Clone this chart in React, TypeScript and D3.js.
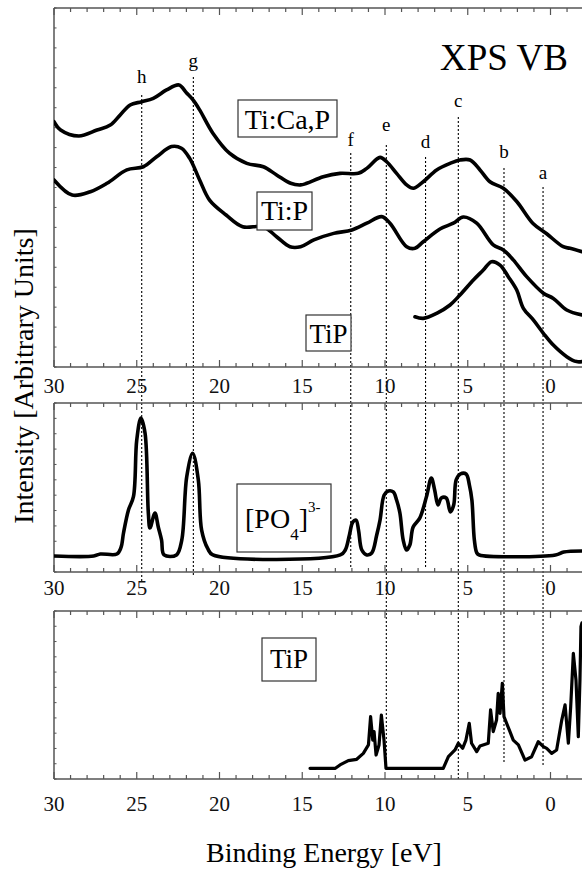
import React from 'react';
import * as d3 from 'd3';

// ---------- data ----------
const xTickLabels = [30, 25, 20, 15, 10, 5, 0];

// Top panel (experimental XPS valence band), arbitrary units
const tiCaP: [number, number][] = [
  [30.0, 12.3], [29.6, 11.88], [28.5, 11.58], [27.4, 11.88], [26.6, 12.13], [26.0, 12.64],
  [25.4, 13.14], [24.7, 13.3], [24.0, 13.47], [23.2, 13.89], [22.45, 14.14], [22.0, 13.75],
  [21.6, 13.39], [21.2, 12.89], [20.4, 11.72], [19.4, 10.72], [18.35, 10.21], [17.35, 10.04],
  [16.55, 9.63], [15.7, 9.21], [15.1, 9.13], [14.73, 9.21], [13.73, 9.54], [12.72, 9.71],
  [11.61, 9.71], [11.1, 9.96], [10.3, 10.51], [9.9, 10.29], [9.3, 9.71], [8.69, 9.13],
  [8.29, 8.96], [7.69, 9.29], [6.88, 9.88], [6.07, 10.21], [5.47, 10.38], [4.86, 10.38],
  [4.26, 9.88], [3.66, 9.29], [2.85, 8.96], [2.04, 8.3], [1.04, 7.18], [0.23, 6.68],
  [-0.77, 6.03], [-1.18, 5.95], [-1.9, 5.78],
];
const tiP: [number, number][] = [
  [30.0, 9.38], [28.9, 8.62], [27.8, 8.79], [26.8, 9.21], [25.6, 9.88], [24.6, 10.04],
  [23.8, 10.54], [22.9, 11.05], [22.3, 10.97], [21.8, 10.46], [21.2, 9.38], [20.6, 8.37],
  [19.6, 7.62], [18.6, 7.03], [17.35, 7.03], [16.55, 6.53], [15.74, 6.03], [15.1, 6.03],
  [14.3, 6.37], [13.1, 6.7], [12.0, 6.87], [11.1, 7.21], [10.2, 7.54], [9.7, 7.21],
  [8.69, 6.03], [8.19, 5.95], [7.69, 6.28], [6.68, 6.92], [5.87, 7.21], [5.27, 7.52],
  [4.46, 7.21], [3.46, 6.12], [2.85, 5.87], [2.25, 5.37], [1.44, 4.53], [0.43, 3.7],
  [-0.17, 3.44], [-0.98, 2.86], [-1.9, 2.61],
];
const tiPExp: [number, number][] = [
  [8.19, 2.52], [7.69, 2.44], [6.88, 2.69], [6.07, 3.11], [5.47, 3.61], [4.66, 4.36],
  [4.06, 4.86], [3.56, 5.28], [3.05, 5.11], [2.55, 4.53], [2.04, 3.86], [1.64, 2.94],
  [1.04, 2.36], [0.43, 1.69], [-0.17, 1.1], [-0.98, 0.52], [-1.58, 0.27], [-1.9, 0.27],
];

// Middle panel: [PO4]3- cluster calculation
const po4: [number, number][] = [
  [30, 1.04], [27.6, 1.04], [27.2, 1.17], [26.2, 1.17], [25.95, 1.6], [25.8, 2.54],
  [25.5, 4.04], [25.2, 4.9], [25.0, 8.59], [24.75, 10.02], [24.5, 9.05], [24.3, 3.84],
  [24.2, 2.86], [23.9, 3.84], [23.7, 2.93], [23.5, 2.08], [23.35, 1.11], [22.6, 1.11],
  [22.28, 2.08], [21.98, 6.2], [21.62, 7.73], [21.28, 5.99], [21.08, 2.73], [20.7, 1.5],
  [20.4, 1.11], [12.7, 1.11], [12.4, 1.43], [12.15, 2.41], [11.95, 3.25], [11.75, 3.38],
  [11.6, 2.73], [11.4, 1.43], [11.1, 1.11], [10.8, 1.24], [10.5, 2.41], [10.3, 3.38],
  [10.05, 5.01], [9.8, 5.27], [9.5, 5.21], [9.3, 4.69], [9.1, 3.84], [8.9, 2.08],
  [8.7, 1.43], [8.5, 1.76], [8.3, 2.93], [7.9, 3.51], [7.5, 4.88], [7.2, 6.12],
  [7.0, 5.34], [6.8, 4.36], [6.6, 4.82], [6.3, 4.82], [6.05, 3.91], [5.85, 4.36],
  [5.7, 5.99], [5.45, 6.38], [5.1, 6.38], [4.9, 5.66], [4.75, 4.69], [4.6, 2.08],
  [4.45, 1.24], [4.3, 1.11], [-0.3, 1.11], [-0.8, 1.3], [-1.9, 1.37],
];

// Bottom panel: TiP calculated DOS
const tiPDos: [number, number][] = [
  [14.53, 0.7], [13.0, 0.7], [12.72, 0.92], [12.22, 1.2], [11.71, 1.29], [11.31, 1.68],
  [11.0, 2.23], [10.87, 4.08], [10.74, 2.55], [10.66, 3.1], [10.54, 1.57], [10.36, 2.23],
  [10.22, 4.19], [10.06, 2.55], [9.94, 0.7], [6.48, 0.7], [6.17, 1.46], [5.77, 1.9],
  [5.57, 2.34], [5.31, 2.01], [5.11, 2.55], [4.91, 3.65], [4.77, 2.34], [4.46, 1.79],
  [4.26, 2.16], [3.76, 2.34], [3.62, 4.52], [3.46, 3.1], [3.26, 3.86], [3.16, 5.61],
  [3.05, 4.3], [2.91, 6.27], [2.81, 4.08], [2.45, 3.1], [2.25, 2.55], [1.94, 2.23],
  [1.54, 1.24], [1.14, 1.46], [0.74, 2.44], [0.43, 2.12], [0.23, 2.01], [-0.07, 1.68],
  [-0.37, 1.9], [-0.68, 3.86], [-0.88, 4.85], [-1.08, 2.34], [-1.22, 4.73], [-1.38, 8.23],
  [-1.54, 6.48], [-1.68, 2.77], [-1.78, 6.48], [-1.84, 9.97], [-1.9, 10.22],
];

// Feature markers
const peakNames = ['h', 'g', 'f', 'e', 'd', 'c', 'b', 'a'];
const peakEnergies = [24.7, 21.58, 12.07, 9.92, 7.55, 5.57, 2.81, 0.45];

// ---------- layout ----------
const FONT = '"Liberation Serif", "Times New Roman", Times, serif';
const X0 = 54;
const X1 = 583.6;
const AXIS = '#555';
const x = d3.scaleLinear().domain([30, -2]).range([X0, X1]);

const panels = {
  top: { y0: 8, y1: 367, max: 18, label: 393 },
  mid: { y0: 403, y1: 572, max: 11, label: 595 },
  bot: { y0: 611, y1: 779, max: 11, label: 811 },
};

// label baseline, line top, line bottom (px)
const peakLayout = [
  [83, 95, 582], [67, 77, 577], [146, 153, 567], [131, 145, 770],
  [148, 157, 568], [107, 117, 780], [158, 168, 763], [179, 187, 767],
];

function Panel({ p }: { p: { y0: number; y1: number; max: number; label: number } }) {
  const y = d3.scaleLinear().domain([0, p.max]).range([p.y1, p.y0]);
  const minor = d3.range(-2, 31);
  const yTicks = d3.range(0, p.max + 1);
  return (
    <g>
      <line x1={X0} x2={X1} y1={p.y0} y2={p.y0} stroke={AXIS} strokeWidth={1.5} />
      <line x1={X0} x2={X1} y1={p.y1} y2={p.y1} stroke={AXIS} strokeWidth={1.5} />
      <line x1={X0} x2={X0} y1={p.y0} y2={p.y1} stroke={AXIS} strokeWidth={1.5} />
      {minor.map((v) => {
        const len = v % 5 === 0 ? 7 : 4;
        const xx = x(v);
        return (
          <g key={v}>
            <line x1={xx} x2={xx} y1={p.y1} y2={p.y1 - len} stroke={AXIS} strokeWidth={1.2} />
            <line x1={xx} x2={xx} y1={p.y0} y2={p.y0 + len} stroke={AXIS} strokeWidth={1.2} />
          </g>
        );
      })}
      {yTicks.map((v) => (
        <line key={'y' + v} x1={X0} x2={X0 + 2.5} y1={y(v)} y2={y(v)} stroke={AXIS} strokeWidth={1} />
      ))}
      {xTickLabels.map((v) => (
        <text key={'l' + v} x={x(v)} y={p.label} textAnchor="middle" fontSize={21} fontFamily={FONT} fill="#111">
          {v}
        </text>
      ))}
    </g>
  );
}

function Curve({ data, p, width, smooth }: { data: [number, number][]; p: any; width: number; smooth: boolean }) {
  const y = d3.scaleLinear().domain([0, p.max]).range([p.y1, p.y0]);
  const gen = d3
    .line<[number, number]>()
    .x((d) => x(d[0]))
    .y((d) => y(d[1]))
    .curve(smooth ? d3.curveCatmullRom.alpha(0.5) : d3.curveLinear);
  return <path d={gen(data) || ''} fill="none" stroke="#000" strokeWidth={width} strokeLinejoin="round" strokeLinecap="round" />;
}

function Box({ x0, y0, w, h }: { x0: number; y0: number; w: number; h: number }) {
  return <rect x={x0} y={y0} width={w} height={h} fill="#fff" stroke="#333" strokeWidth={1.2} />;
}

export default function App() {
  return (
    <svg
      width={582}
      height={870}
      viewBox="0 0 582 870"
      style={{ position: 'absolute', left: 0, top: 0, background: '#fff' }}
    >
      <rect x={0} y={0} width={582} height={870} fill="#fff" />
      <defs>
        <clipPath id="plotclip">
          <rect x={X0} y={0} width={X1 - X0} height={870} />
        </clipPath>
      </defs>

      {/* dotted feature lines */}
      {peakEnergies.map((e, i) => (
        <g key={peakNames[i]}>
          <line
            x1={x(e)}
            x2={x(e)}
            y1={peakLayout[i][1]}
            y2={peakLayout[i][2]}
            stroke="#000"
            strokeWidth={1.1}
            strokeDasharray="2,2"
          />
          <text x={x(e)} y={peakLayout[i][0]} textAnchor="middle" fontSize={19} fontFamily={FONT} fill="#000">
            {peakNames[i]}
          </text>
        </g>
      ))}

      <Panel p={panels.top} />
      <Panel p={panels.mid} />
      <Panel p={panels.bot} />

      <g clipPath="url(#plotclip)">
        <Curve data={tiCaP} p={panels.top} width={3.6} smooth={true} />
        <Curve data={tiP} p={panels.top} width={3.6} smooth={true} />
        <Curve data={tiPExp} p={panels.top} width={3.6} smooth={true} />
        <Curve data={po4} p={panels.mid} width={3.6} smooth={true} />
        <Curve data={tiPDos} p={panels.bot} width={3.2} smooth={false} />
      </g>

      {/* title */}
      <text x={440} y={70} fontSize={37} fontFamily={FONT} fill="#000">XPS VB</text>

      {/* labels in boxes */}
      <Box x0={238} y0={100} w={99} h={37} />
      <text x={287.5} y={129} textAnchor="middle" fontSize={28} fontFamily={FONT}>Ti:Ca,P</text>

      <Box x0={257} y0={192} w={55} h={38} />
      <text x={284.5} y={220} textAnchor="middle" fontSize={28} fontFamily={FONT}>Ti:P</text>

      <Box x0={306} y0={315} w={45} h={36} />
      <text x={328.5} y={343} textAnchor="middle" fontSize={27} fontFamily={FONT}>TiP</text>

      <Box x0={237} y0={484} w={94} h={68} />
      <text x={245} y={528} fontSize={28} fontFamily={FONT}>
        [PO
        <tspan fontSize={17} dy={12}>4</tspan>
        <tspan dy={-12}>]</tspan>
        <tspan fontSize={15} dy={-16}>3-</tspan>
      </text>

      <Box x0={262} y0={638} w={54} h={43} />
      <text x={289} y={668} textAnchor="middle" fontSize={27} fontFamily={FONT}>TiP</text>

      {/* axis titles */}
      <text x={324} y={862} textAnchor="middle" fontSize={28} fontFamily={FONT}>Binding Energy [eV]</text>
      <text
        transform="translate(33,376) rotate(-90)"
        textAnchor="middle"
        fontSize={28}
        fontFamily={FONT}
      >
        Intensity [Arbitrary Units]
      </text>
    </svg>
  );
}
